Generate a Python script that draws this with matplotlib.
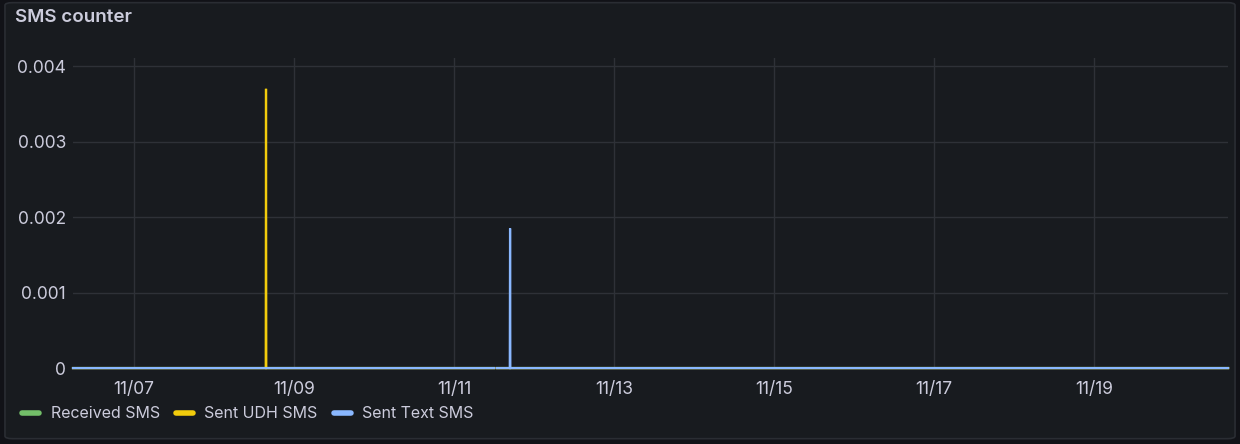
import matplotlib
matplotlib.use("Agg")
import matplotlib.pyplot as plt
import matplotlib.dates as mdates
from matplotlib.patches import FancyBboxPatch
import numpy as np
import pandas as pd

plt.rcParams['font.family'] = ['Inter', 'DejaVu Sans']

# sample times (5 minute scrape around the spikes), values in SMS/s
times = pd.to_datetime([
    "2023-11-06 05:40", "2023-11-08 15:30", "2023-11-08 15:35", "2023-11-08 15:40",
    "2023-11-11 12:00", "2023-11-11 12:25", "2023-11-11 12:50", "2023-11-11 16:45",
    "2023-11-11 16:50", "2023-11-11 16:55", "2023-11-20 16:20",
])
received_sms = [0, 0, 0, 0, 0, np.nan, 0, 0, 0, 0, 0]
sent_udh_sms = [0, 0, 0.0037, 0, 0, np.nan, 0, 0, 0, 0, 0]
sent_text_sms = [0, 0, 0, 0, 0, np.nan, 0, 0, 0.00185, 0, 0]

series = [
    ("Received SMS", received_sms, "#73bf69"),
    ("Sent UDH SMS", sent_udh_sms, "#f2cc0c"),
    ("Sent Text SMS", sent_text_sms, "#8ab8ff"),
]

bg = "#181b1f"
text_col = "#ccccdc"

fig = plt.figure(figsize=(12.4, 4.44), dpi=100)
fig.patch.set_facecolor("#111217")
panel = FancyBboxPatch((0.004, 0.012), 0.992, 0.982, boxstyle="round,pad=0,rounding_size=0.006",
                       transform=fig.transFigure, facecolor=bg, edgecolor="#2a2d33", lw=1.2,
                       zorder=-5)
fig.patches.append(panel)

ax = fig.add_axes([0.0589, 0.171, 0.9315, 0.698])
ax.set_facecolor("none")

for name, vals, col in series:
    ax.plot(times, vals, color=col, lw=1.6, label=name, clip_on=False, solid_joinstyle="miter")

ax.set_xlim(pd.Timestamp("2023-11-06 05:40"), pd.Timestamp("2023-11-20 16:20"))
ax.set_ylim(0, 0.004106)
ax.set_yticks([0, 0.001, 0.002, 0.003, 0.004])
ax.set_yticklabels(["0", "0.001", "0.002", "0.003", "0.004"])
ax.xaxis.set_major_locator(mdates.DayLocator(bymonthday=[7, 9, 11, 13, 15, 17, 19]))
ax.xaxis.set_major_formatter(mdates.DateFormatter("%m/%d"))

ax.grid(True, color="#2e3137", lw=1)
ax.set_axisbelow(True)
for s in ax.spines.values():
    s.set_visible(False)
ax.tick_params(axis="both", length=0, colors=text_col, labelsize=12.5)
ax.tick_params(axis="x", pad=9)
ax.tick_params(axis="y", pad=5)

fig.text(0.012, 0.96, "SMS counter", color=text_col, fontsize=13.5, fontweight="semibold", va="center")

leg = fig.legend(loc="center left", bbox_to_anchor=(0.006, 0.068), ncol=3, frameon=False,
                 fontsize=11.5, labelcolor=text_col, handlelength=1.1, handletextpad=0.7,
                 columnspacing=1.0)
for h in leg.get_lines():
    h.set_linewidth(4)
    h.set_solid_capstyle("round")

fig.savefig("out.png", dpi=100, facecolor=fig.get_facecolor())
